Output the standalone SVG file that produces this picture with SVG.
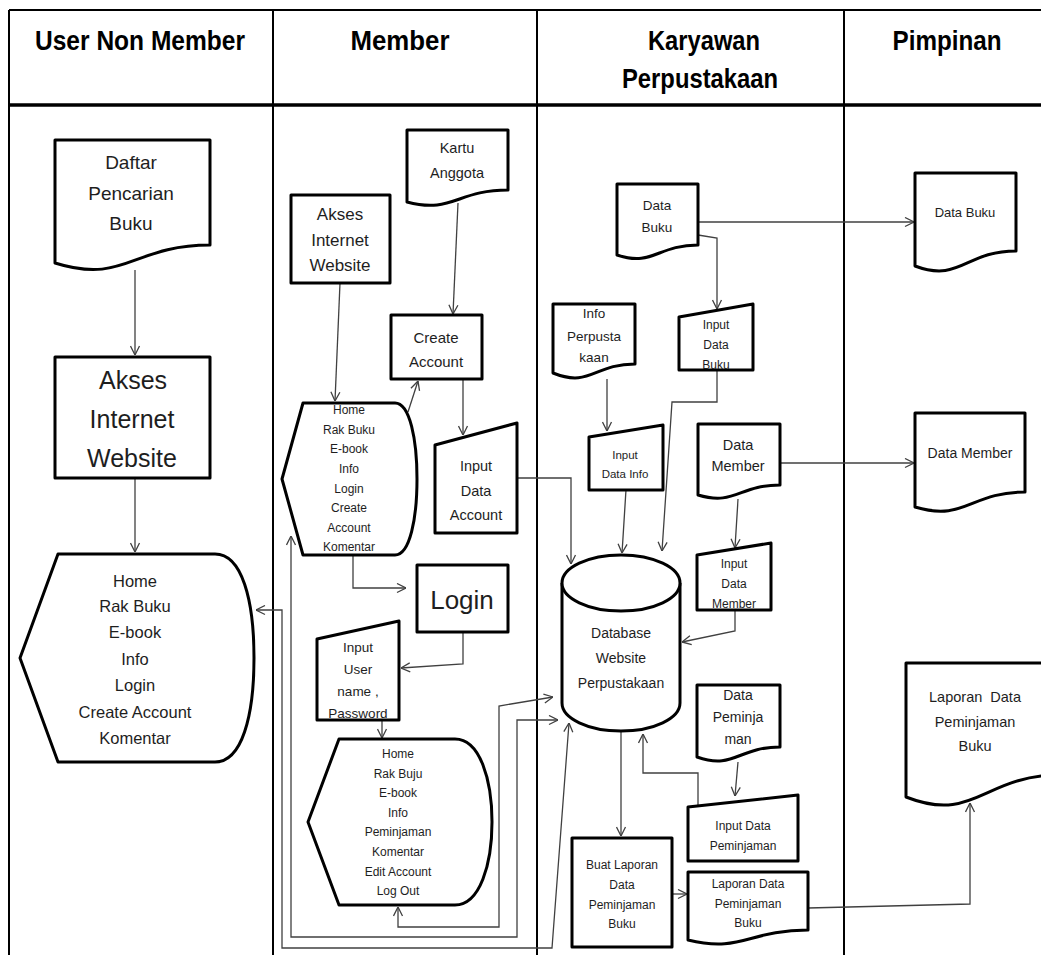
<svg xmlns="http://www.w3.org/2000/svg" width="1041" height="955" viewBox="0 0 1041 955">
<style>
text{font-family:"Liberation Sans",Arial,sans-serif;fill:#1e1e1e;text-anchor:middle;dominant-baseline:central}
.hd{font-weight:bold;font-size:28px;fill:#000}
.sh{fill:#fff;stroke:#000;stroke-width:3;stroke-linejoin:round}
.lane{stroke:#000;fill:none}
.cn path{fill:none;stroke:#404040;stroke-width:1.3;marker-end:url(#ah)}
.both{marker-start:url(#ah)}
</style>
<defs>
<marker id="ah" viewBox="0 0 10 10" refX="10" refY="5" markerWidth="10" markerHeight="11" markerUnits="userSpaceOnUse" orient="auto-start-reverse">
<path d="M1,0.5 L10,5 L1,9.5" fill="none" stroke="#404040" stroke-width="1.3"/>
</marker>
</defs>
<rect width="1041" height="955" fill="#fff"/>
<g id="lanes">
<path class="lane" stroke-width="2" d="M9,10 H1041 M9,10 V955 M273,10 V955 M537,10 V955 M844,10 V955"/>
<path class="lane" stroke-width="3.5" d="M9,105 H1041"/>
<text class="hd" x="140" y="40" textLength="210" lengthAdjust="spacingAndGlyphs">User Non Member</text>
<text class="hd" x="400" y="40" textLength="99" lengthAdjust="spacingAndGlyphs">Member</text>
<text class="hd" x="704" y="40" textLength="112" lengthAdjust="spacingAndGlyphs">Karyawan</text>
<text class="hd" x="700" y="78" textLength="156" lengthAdjust="spacingAndGlyphs">Perpustakaan</text>
<text class="hd" x="947" y="40" textLength="109" lengthAdjust="spacingAndGlyphs">Pimpinan</text>
</g>
<g id="connectors" class="cn">
<path d="M135,270 V355"/>
<path d="M135,478 V552"/>
<path d="M458,203 L453,314"/>
<path d="M340,283 L335,401"/>
<path d="M408,412 L418,381"/>
<path d="M463,379 V435"/>
<path d="M517,478 H571 V564"/>
<path d="M353,555 V588 H406"/>
<path d="M463,632 V664 L401,668"/>
<path d="M382,720 V738"/>
<path class="both" d="M398,907 V927 H499 V706 L553,697"/>
<path class="both" d="M291,536 V937 H517 V720 H558"/>
<path class="both" d="M256,610 H282 V948 H552 L569,723"/>
<path d="M698,222 H914"/>
<path d="M698,235 L717,238 V309"/>
<path d="M607,379 V431"/>
<path d="M626,490 L622,553"/>
<path d="M717,370 V402 H672 L662,551"/>
<path d="M780,463 H914"/>
<path d="M738,499 L735,548"/>
<path d="M735,610 V631 L682,642"/>
<path d="M621,731 V836"/>
<path d="M672,894 H687"/>
<path d="M808,908 L970,904 V803"/>
<path d="M738,762 L735,796"/>
<path d="M698,805 V773 H643 V734"/>
</g>
<g id="n-daftar">
<path class="sh" d="M55,140 H210 V245 C132,245 125,285 55,263 Z"/>
<text x="131" y="162" font-size="19">Daftar</text>
<text x="131" y="193" font-size="19">Pencarian</text>
<text x="131" y="223" font-size="19">Buku</text>
</g>
<g id="n-akses1">
<rect class="sh" x="55" y="357" width="155" height="121"/>
<text x="133" y="380" font-size="25">Akses</text>
<text x="132" y="419" font-size="25">Internet</text>
<text x="132" y="458" font-size="25">Website</text>
</g>
<g id="n-display1">
<path class="sh" d="M20,658 L58,554 H215 C242,554 254,600 254,658 C254,716 242,762 215,762 H58 Z"/>
<text x="135" y="581" font-size="16.5">Home</text>
<text x="135" y="606" font-size="16.5">Rak Buku</text>
<text x="135" y="632" font-size="16.5">E-book</text>
<text x="135" y="659" font-size="16.5">Info</text>
<text x="135" y="685" font-size="16.5">Login</text>
<text x="135" y="712" font-size="16.5">Create Account</text>
<text x="135" y="738" font-size="16.5">Komentar</text>
</g>
<g id="n-kartu">
<path class="sh" d="M407,130 H508 V190 C457,190 452,214 407,202 Z"/>
<text x="457" y="148" font-size="14.5">Kartu</text>
<text x="457" y="173" font-size="14.5">Anggota</text>
</g>
<g id="n-akses2">
<rect class="sh" x="291" y="195" width="99" height="88"/>
<text x="340" y="214" font-size="17">Akses</text>
<text x="340" y="240" font-size="17">Internet</text>
<text x="340" y="265" font-size="17">Website</text>
</g>
<g id="n-create">
<rect class="sh" x="391" y="315" width="91" height="64"/>
<text x="436" y="337" font-size="15">Create</text>
<text x="436" y="361" font-size="15">Account</text>
</g>
<g id="n-display2">
<path class="sh" d="M282,479 L303,403 H395 C410,403 417,440 417,479 C417,518 410,555 395,555 H303 Z"/>
<text x="349" y="410" font-size="12">Home</text>
<text x="349" y="430" font-size="12">Rak Buku</text>
<text x="349" y="449" font-size="12">E-book</text>
<text x="349" y="469" font-size="12">Info</text>
<text x="349" y="489" font-size="12">Login</text>
<text x="349" y="508" font-size="12">Create</text>
<text x="349" y="528" font-size="12">Account</text>
<text x="349" y="547" font-size="12">Komentar</text>
</g>
<g id="n-inputaccount">
<path class="sh" d="M435,445 L517,423 V533 H435 Z"/>
<text x="476" y="466" font-size="14.5">Input</text>
<text x="476" y="491" font-size="14.5">Data</text>
<text x="476" y="515" font-size="14.5">Account</text>
</g>
<g id="n-login">
<rect class="sh" x="417" y="565" width="91" height="67"/>
<text x="462" y="600" font-size="26">Login</text>
</g>
<g id="n-inputuser">
<path class="sh" d="M317,639 L399,621 V720 H317 Z"/>
<text x="358" y="647" font-size="13.5">Input</text>
<text x="358" y="669" font-size="13.5">User</text>
<text x="358" y="691" font-size="13.5">name ,</text>
<text x="358" y="713" font-size="13.5">Password</text>
</g>
<g id="n-display3">
<path class="sh" d="M308,822 L339,739 H455 C480,739 492,780 492,822 C492,864 480,905 455,905 H339 Z"/>
<text x="398" y="754" font-size="12">Home</text>
<text x="398" y="774" font-size="12">Rak Buju</text>
<text x="398" y="793" font-size="12">E-book</text>
<text x="398" y="813" font-size="12">Info</text>
<text x="398" y="832" font-size="12">Peminjaman</text>
<text x="398" y="852" font-size="12">Komentar</text>
<text x="398" y="872" font-size="12">Edit Account</text>
<text x="398" y="891" font-size="12">Log Out</text>
</g>
<g id="n-databuku">
<path class="sh" d="M617,184 H698 V245 C657,245 653,267 617,255 Z"/>
<text x="657" y="205" font-size="13.5">Data</text>
<text x="657" y="227" font-size="13.5">Buku</text>
</g>
<g id="n-inputbuku">
<path class="sh" d="M679,317 L753,304 V370 H679 Z"/>
<text x="716" y="325" font-size="12">Input</text>
<text x="716" y="345" font-size="12">Data</text>
<text x="716" y="365" font-size="12">Buku</text>
</g>
<g id="n-info">
<path class="sh" d="M553,304 H635 V364 C594,364 590,388 553,373 Z"/>
<text x="594" y="313" font-size="13.5">Info</text>
<text x="594" y="336" font-size="13.5">Perpusta</text>
<text x="594" y="357" font-size="13.5">kaan</text>
</g>
<g id="n-inputinfo">
<path class="sh" d="M589,437 L663,425 V490 H589 Z"/>
<text x="625" y="455" font-size="11.5">Input</text>
<text x="625" y="474" font-size="11.5">Data Info</text>
</g>
<g id="n-datamember">
<path class="sh" d="M698,424 H780 V485 C739,485 735,506 698,495 Z"/>
<text x="738" y="445" font-size="14.5">Data</text>
<text x="738" y="466" font-size="14.5">Member</text>
</g>
<g id="n-inputmember">
<path class="sh" d="M697,555 L771,543 V610 H697 Z"/>
<text x="734" y="564" font-size="12">Input</text>
<text x="734" y="584" font-size="12">Data</text>
<text x="734" y="604" font-size="12">Member</text>
</g>
<g id="n-database">
<path class="sh" d="M562,583 V703 A59,28 0 0 0 680,703 V583 A59,28 0 0 0 562,583 Z"/>
<path class="sh" fill="none" d="M562,583 A59,28 0 0 0 680,583"/>
<text x="621" y="633" font-size="14">Database</text>
<text x="621" y="658" font-size="14">Website</text>
<text x="621" y="683" font-size="14">Perpustakaan</text>
</g>
<g id="n-datapeminjaman">
<path class="sh" d="M697,685 H780 V747 C738,747 734,770 697,757 Z"/>
<text x="738" y="695" font-size="14">Data</text>
<text x="738" y="717" font-size="14">Peminja</text>
<text x="738" y="739" font-size="14">man</text>
</g>
<g id="n-inputpeminjaman">
<path class="sh" d="M688,807 L798,795 V861 H688 Z"/>
<text x="743" y="826" font-size="12">Input Data</text>
<text x="743" y="846" font-size="12">Peminjaman</text>
</g>
<g id="n-buatlaporan">
<rect class="sh" x="572" y="838" width="100" height="109"/>
<text x="622" y="865" font-size="12">Buat Laporan</text>
<text x="622" y="885" font-size="12">Data</text>
<text x="622" y="905" font-size="12">Peminjaman</text>
<text x="622" y="924" font-size="12">Buku</text>
</g>
<g id="n-laporan1">
<path class="sh" d="M688,872 H808 V930 C748,930 742,953 688,940 Z"/>
<text x="748" y="884" font-size="12">Laporan Data</text>
<text x="748" y="904" font-size="12">Peminjaman</text>
<text x="748" y="923" font-size="12">Buku</text>
</g>
<g id="n-p-databuku">
<path class="sh" d="M915,173 H1016 V251 C965,251 960,283 915,266 Z"/>
<text x="965" y="212" font-size="13">Data Buku</text>
</g>
<g id="n-p-datamember">
<path class="sh" d="M915,413 H1025 V492 C970,492 965,522 915,507 Z"/>
<text x="970" y="453" font-size="14">Data Member</text>
</g>
<g id="n-p-laporan">
<path class="sh" d="M906,663 H1060 V775 C983,775 975,824 906,797 Z"/>
<text x="975" y="697" font-size="14.5" style="white-space:pre">Laporan  Data</text>
<text x="975" y="722" font-size="14.5">Peminjaman</text>
<text x="975" y="746" font-size="14.5">Buku</text>
</g>
</svg>
